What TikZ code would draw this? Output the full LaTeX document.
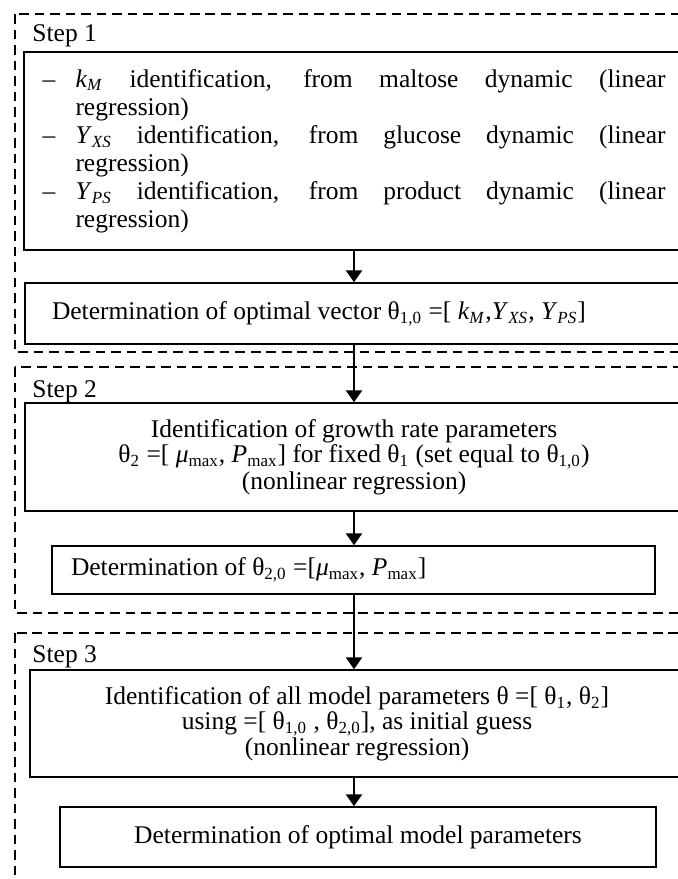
\documentclass[tikz,border=0pt]{standalone}
\usepackage{fontspec}
\setmainfont{Liberation Serif}
\usetikzlibrary{arrows.meta}
\newdimen\pxd \pxd=0.4706pt
\newcommand{\sub}[1]{\textsubscript{#1}}

\begin{document}
\begin{tikzpicture}[x=\pxd, y=-\pxd,
  box/.style={draw, line width=0.7pt, font=\fontsize{12}{11}\selectfont, inner sep=0pt,
              execute at begin node={\spaceskip=0pt\xspaceskip=0pt\relax}},
  frame/.style={draw, line width=0.5pt, dash pattern=on 4.5pt off 2.8pt},
  steplbl/.style={anchor=west, inner sep=0pt, font=\fontsize{12}{13}\selectfont},
  arr/.style={-{Triangle[width=7.5pt, length=5.6pt]}, line width=1.1pt}
]
\useasboundingbox (0,0) rectangle (678,879);
\clip (0,0) rectangle (678,879);
\fill[white] (0,0) rectangle (678,879);

% step frames
\draw[frame] (15,14)  rectangle (700,352);
\draw[frame] (15,367) rectangle (700,613);
\draw[frame] (15,633) rectangle (700,900);
\node[steplbl] (s1) at (32,36)  {Step 1};
\node[steplbl] (s2) at (32,392) {Step 2};
\node[steplbl] (s3) at (32,657) {Step 3};

% step 1
\node[box, minimum width=660*\pxd, minimum height=198*\pxd, text width=623*\pxd,
      align=left, font=\fontsize{12}{13.2}\selectfont] (b1) at (354,151) {%
  \makebox[33\pxd][l]{–}\makebox[590\pxd][s]{\textit{k}\sub{\textit{M}} identification, from maltose dynamic (linear}\\
  \hspace*{33\pxd}regression)\\
  \makebox[33\pxd][l]{–}\makebox[590\pxd][s]{\textit{Y}\sub{\textit{XS}} identification, from glucose dynamic (linear}\\
  \hspace*{33\pxd}regression)\\
  \makebox[33\pxd][l]{–}\makebox[590\pxd][s]{\textit{Y}\sub{\textit{PS}} identification, from product dynamic (linear}\\
  \hspace*{33\pxd}regression)};
\node[box, minimum width=658*\pxd, minimum height=61*\pxd, text width=604*\pxd,
      align=left] (b2) at (354,313.5)
  {Determination of optimal vector θ\sub{1,0} =[ \textit{k}\sub{\textit{M}},\textit{Y}\sub{\textit{XS}}, \textit{Y}\sub{\textit{PS}}]};

% step 2
\node[box, minimum width=658*\pxd, minimum height=108*\pxd, align=center] (b3) at (354,457)
  {Identification of growth rate parameters\\
   θ\sub{2} =[ \textit{μ}\sub{max}, \textit{P}\sub{max}] for fixed θ\sub{1} (set equal to θ\sub{1,0})\\
   (nonlinear regression)};
\node[box, minimum width=603*\pxd, minimum height=48*\pxd, text width=565*\pxd,
      align=left] (b4) at (353.5,570)
  {Determination of θ\sub{2,0} =[\textit{μ}\sub{max}, \textit{P}\sub{max}]};

% step 3
\node[box, minimum width=654*\pxd, minimum height=107*\pxd, align=center,
      font=\fontsize{12}{12}\selectfont] (b5) at (357,723.5)
  {Identification of all model parameters θ =[ θ\sub{1}, θ\sub{2}]\\
   using =[ θ\sub{1,0} , θ\sub{2,0}], as initial guess\\
   (nonlinear regression)};
\node[box, minimum width=596*\pxd, minimum height=60*\pxd] (b6) at (358,837)
  {Determination of optimal model parameters};

\draw[arr] (b1) -- (b2);
\draw[arr] (b2) -- (b3);
\draw[arr] (b3) -- (b3.south |- b4.north);
\draw[arr] (b4.south -| b3.south) -- (b3.south |- b5.north);
\draw[arr] (b5.south -| b3.south) -- (b3.south |- b6.north);
\end{tikzpicture}
\end{document}
